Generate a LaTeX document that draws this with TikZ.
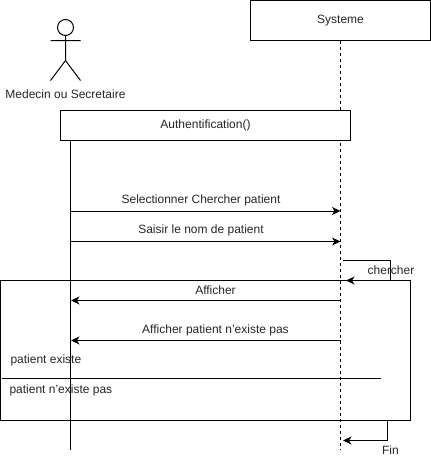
\documentclass[tikz,border=0pt]{standalone}
\usepackage{fontspec}
\setmainfont{Liberation Sans}
\usetikzlibrary{arrows.meta}
\tikzset{
  x=1pt,y=-1pt,
  every node/.style={font=\fontsize{12}{14}\selectfont,text=black!85,inner sep=0pt,outer sep=0pt},
  boxnode/.style={draw=black,line width=1pt,fill=white,anchor=north west},
  ln/.style={draw=black,line width=1pt},
  msg/.style={ln,-{Stealth[length=8.5pt,width=8pt,inset=2.5pt]}},
  life/.style={draw=black,line width=1pt,dash pattern=on 3pt off 3pt},
}
\begin{document}
\begin{tikzpicture}
\useasboundingbox (0,0) rectangle (431,461);
% frame
\node[boxnode,fill=none,minimum width=410pt,minimum height=140pt] (frame) at (0.5,280.5) {};
% participants
\node[boxnode,minimum width=180pt,minimum height=40pt] (sys) at (250.5,0.5) {};
\node at (340.5,21) (systxt) {Systeme};
\coordinate (sysend) at (340.5,450);
\draw[life] (sys.south) -- (sysend);
\node[boxnode,minimum width=290pt,minimum height=30pt] (auth) at (60.5,110.5) {};
\node at (205.5,125) (authtxt) {Authentification()};
\coordinate (medtop) at (70.5,140.5);
\coordinate (medend) at (70.5,450);
\draw[ln] (medtop) -- (medend);
% actor
\node[draw=black,line width=1pt,circle,minimum size=16pt] (head) at (65.5,27.5) {};
\coordinate (hip) at (65.5,60.5);
\coordinate (armL) at (50.5,40.5);
\coordinate (armR) at (80.5,40.5);
\coordinate (legL) at (50.5,80.5);
\coordinate (legR) at (80.5,80.5);
\draw[ln] (head.south) -- (hip) (armL) -- (armR) (legL) -- (hip) -- (legR);
\node (medlbl) at (65.5,94) {Medecin ou Secretaire};
% messages
\coordinate (m1a) at (70.5,211); \coordinate (m1b) at (340.5,211);
\draw[msg] (m1a) -- (m1b);
\node (t1) at (201,200.5) {Selectionner Chercher patient};
\coordinate (m2a) at (70.5,241.5); \coordinate (m2b) at (340.5,241.5);
\draw[msg] (m2a) -- (m2b);
\node (t2) at (201,230.5) {Saisir le nom de patient};
\coordinate (s1) at (343,260.5); \coordinate (s2) at (390.5,260.5);
\coordinate (s3) at (390.5,280.5); \coordinate (s4) at (346,280.5);
\draw[msg] (s1) -- (s2) -- (s3) -- (s4);
\node (t3) at (391,270.5) {chercher};
\coordinate (m3a) at (340.5,300.5); \coordinate (m3b) at (71,300.5);
\draw[msg] (m3a) -- (m3b);
\node (t4) at (215.5,290.5) {Afficher};
\coordinate (m4a) at (340.5,340.5); \coordinate (m4b) at (71,340.5);
\draw[msg] (m4a) -- (m4b);
\node (t5) at (215.5,330.5) {Afficher patient n'existe pas};
\node[anchor=west] (t6) at (10.5,360.5) {patient existe};
\coordinate (d1) at (2,378.5); \coordinate (d2) at (380.5,378.5);
\draw[ln] (d1) -- (d2);
\node[anchor=west] (t7) at (9.5,390.5) {patient n'existe pas};
\coordinate (f1) at (387.5,420.5); \coordinate (f2) at (387.5,440.5); \coordinate (f3) at (343,440.5);
\draw[msg] (f1) -- (f2) -- (f3);
\node (t8) at (390.5,450.5) {Fin};
\end{tikzpicture}
\end{document}
